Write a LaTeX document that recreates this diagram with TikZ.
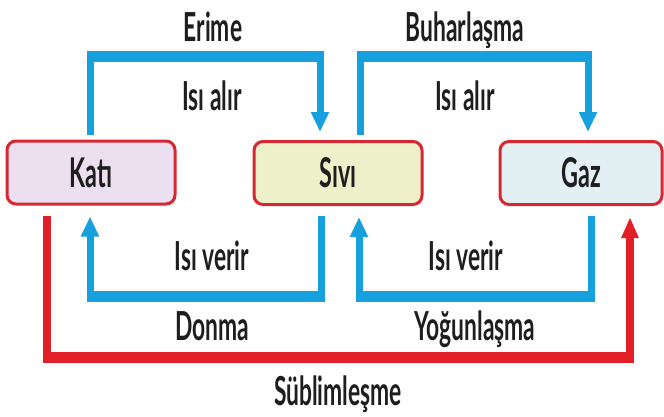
\documentclass[tikz,border=0pt]{standalone}
\usepackage{fontspec}
\setmainfont[FakeStretch=0.57]{Lato}
\usetikzlibrary{arrows.meta,calc}

\definecolor{flowblue}{RGB}{22,160,222}
\definecolor{flowred}{RGB}{226,30,38}
\definecolor{boxred}{RGB}{214,40,50}
\definecolor{katifill}{RGB}{236,223,239}
\definecolor{sivifill}{RGB}{238,240,202}
\definecolor{gazfill}{RGB}{226,240,243}
\definecolor{ink}{RGB}{30,30,30}

\begin{document}
\begin{tikzpicture}[x=1pt,y=-1pt,
  state/.style={draw=boxred, line width=3pt, rounded corners=9pt,
    minimum height=63pt, inner sep=0pt, text=ink,
    font=\fontsize{41}{41}\selectfont\bfseries},
  lbl/.style={anchor=base, inner sep=0pt, text=ink,
    font=\fontsize{40}{40}\selectfont\bfseries},
  bline/.style={draw=flowblue, line width=7pt},
  barrow/.style={bline, -{Triangle[width=17pt,length=20pt]}},
  bband/.style={draw=flowblue, line width=11pt},
  rline/.style={draw=flowred, line width=7.5pt},
  rarrow/.style={rline, -{Triangle[width=16pt,length=21pt]}},
  rband/.style={draw=flowred, line width=11pt},
]
\useasboundingbox (0,0) rectangle (664,416);
\fill[white] (0,0) rectangle (664,416);

% the three states of matter
\node[state, fill=katifill, minimum width=168pt] (kati) at (91,172.5) {Katı};
\node[state, fill=sivifill, minimum width=168pt] (sivi) at (338,173) {Sıvı};
\node[state, fill=gazfill,  minimum width=162pt] (gaz)  at (581,173) {Gaz};

% corner points of the connectors
\coordinate (e1) at (90,56);   \coordinate (e2) at (320,56);
\coordinate (b1) at (360,56);  \coordinate (b2) at (588,56);
\coordinate (d1) at (321,296); \coordinate (d2) at (90,296);
\coordinate (y1) at (591,296); \coordinate (y2) at (359,296);
\coordinate (s1) at (47,357);  \coordinate (s2) at (630,357);

% Erime: solid -> liquid
\draw[barrow] ($(kati.north -| e1)+(0,-5)$) -- (e1) -- (e2) -- ($(sivi.north -| e2)+(0,-8)$);
\draw[bband] ([xshift=-3.5pt]e1) -- ([xshift=3.5pt]e2);
% Buharlasma: liquid -> gas
\draw[barrow] ($(sivi.north -| b1)+(0,-5)$) -- (b1) -- (b2) -- ($(gaz.north -| b2)+(0,-8)$);
\draw[bband] ([xshift=-3.5pt]b1) -- ([xshift=3.5pt]b2);
% Donma: liquid -> solid
\draw[barrow] ($(sivi.south -| d1)+(0,10)$) -- (d1) -- (d2) -- ($(kati.south -| d2)+(0,11)$);
\draw[bband] ([xshift=3.5pt]d1) -- ([xshift=-3.5pt]d2);
% Yogunlasma: gas -> liquid
\draw[barrow] ($(gaz.south -| y1)+(0,10)$) -- (y1) -- (y2) -- ($(sivi.south -| y2)+(0,11)$);
\draw[bband] ([xshift=3.5pt]y1) -- ([xshift=-3.5pt]y2);
% Sublimlesme: solid -> gas
\draw[rarrow] ($(kati.south -| s1)+(0,10)$) -- (s1) -- (s2) -- ($(gaz.south -| s2)+(0,11)$);
\draw[rband] ([xshift=-3.75pt]s1) -- ([xshift=3.75pt]s2);

% labels
\node[lbl] (erime) at (213,41) {Erime};
\node[lbl] (buhar) at (465,41) {Buharlaşma};
\node[lbl] (alir1) at (212,110) {Isı alır};
\node[lbl] (alir2) at (465,110) {Isı alır};
\node[lbl] (verir1) at (212,270) {Isı verir};
\node[lbl] (verir2) at (466,270) {Isı verir};
\node[lbl] (donma) at (212,340) {Donma};
\node[lbl] (yogun) at (475,340) {Yoğunlaşma};
\node[lbl] (subli) at (338,405) {Süblimleşme};
\end{tikzpicture}
\end{document}
